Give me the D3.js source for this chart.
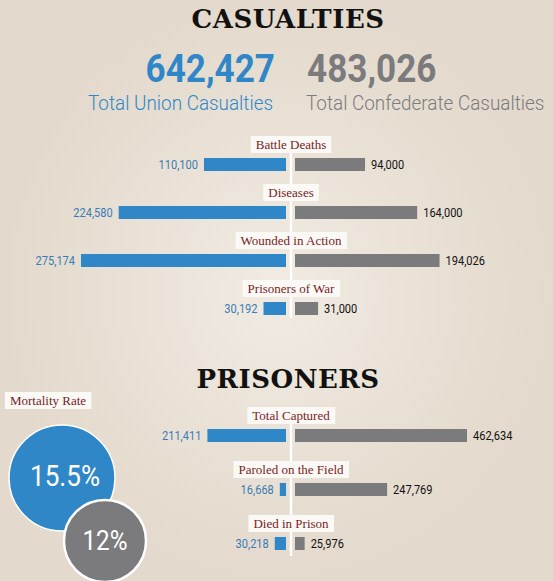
<!DOCTYPE html><html><head><meta charset="utf-8"><script src="https://cdn.jsdelivr.net/npm/d3@7"></script>
<style>body{margin:0;background:#ece5da}svg{display:block}</style></head><body>
<script>
const casualtyCats=["Battle Deaths","Diseases","Wounded in Action","Prisoners of War"];
const unionCas=[110100,224580,275174,30192];
const confCas=[94000,164000,194026,31000];
const prisonerCats=["Total Captured","Paroled on the Field","Died in Prison"];
const unionPris=[211411,16668,30218];
const confPris=[462634,247769,25976];
const totals=[642427,483026];
const totalLabels=["Total Union Casualties","Total Confederate Casualties"];
const mortality=[15.5,12];

const W=553,H=581,cx=291,BLUE="#2f87c8",GRAY="#7b7b7d",RED="#7a1c1c";
const cond="Roboto,sans-serif";
const svg=d3.select("body").append("svg").attr("width",W).attr("height",H);
const g=svg.append("defs").append("radialGradient").attr("id","bg");
g.append("stop").attr("offset","0%").attr("stop-color","#f1ebe2");
g.append("stop").attr("offset","100%").attr("stop-color","#e3d9cc");
svg.append("rect").attr("width",W).attr("height",H).attr("fill","url(#bg)");
const fmt=d3.format(",");
function title(t,y){svg.append("text").attr("x",cx-3).attr("y",y).attr("text-anchor","middle")
 .attr("font-family","'DejaVu Serif',serif").attr("font-weight","bold").attr("font-size",26)
 .attr("letter-spacing",0.5).attr("fill","#111").text(t);}
title("CASUALTIES",28);title("PRISONERS",388);
// condensed text helper: horizontal squeeze about anchor x
function ctext(x,y,anchor,size,fill,weight,t,sq){
 return svg.append("text").attr("transform",`translate(${x},${y}) scale(${sq||0.85},1)`).attr("text-anchor",anchor)
  .attr("font-family",cond).attr("font-size",size).attr("font-weight",weight||"normal").attr("fill",fill).text(t);
}
ctext(275,82,"end",39,BLUE,"bold",fmt(totals[0]),0.9);
ctext(307,82,"start",39,GRAY,"bold",fmt(totals[1]),0.9);
ctext(88,110,"start",21,BLUE,"300",totalLabels[0],0.9);
ctext(306,110,"start",21,GRAY,"300",totalLabels[1],0.9);

function labelBox(x,y,t){
 const lt=svg.append("text").attr("x",x).attr("y",y).attr("text-anchor","middle")
  .attr("font-family","'Liberation Serif',serif").attr("font-size",13).attr("fill",RED).text(t);
 const bb=lt.node().getBBox();
 svg.insert("rect","text:last-child").attr("x",bb.x-5).attr("y",bb.y-1).attr("width",bb.width+10).attr("height",bb.height+2).attr("fill","#fbf9f6");
 lt.raise();
}
function block(cats,u,c,y0,step,scale,lineTop,lineBot){
 svg.append("line").attr("x1",cx).attr("x2",cx).attr("y1",lineTop).attr("y2",lineBot).attr("stroke","#fff").attr("stroke-width",2.5);
 const y=d3.scaleBand().domain(cats).range([y0,y0+step*cats.length]);
 cats.forEach((k,i)=>{
  const yy=y(k);
  labelBox(cx,yy+4,k);
  const by=yy+13,bh=13;
  svg.append("rect").attr("x",cx-5-scale(u[i])).attr("y",by).attr("width",scale(u[i])).attr("height",bh).attr("fill",BLUE);
  svg.append("rect").attr("x",cx+4).attr("y",by).attr("width",scale(c[i])).attr("height",bh).attr("fill",GRAY);
  ctext(cx-11-scale(u[i]),by+11,"end",13,"#3a7cb5","normal",fmt(u[i]));
  ctext(cx+10+scale(c[i]),by+11,"start",13,"#111","normal",fmt(c[i]));
 });
}
block(casualtyCats,unionCas,confCas,145,48,d3.scaleLinear().domain([0,275174]).range([0,205]),150,318);
block(prisonerCats,unionPris,confPris,416,54,d3.scaleLinear().domain([0,462634]).range([0,172]),420,556);

labelBox(48,405,"Mortality Rate");
const r=d3.scaleLinear().domain([0,15.5]).range([0,53]);
[[62,478,BLUE],[105,541,GRAY]].forEach((p,i)=>{
 svg.append("circle").attr("cx",p[0]).attr("cy",p[1]).attr("r",r(mortality[i])).attr("fill",p[2]).attr("stroke","#fff").attr("stroke-width",i?2.5:1.5);
 ctext(i?p[0]:65,i?p[1]+9:486,"middle",i?27:29,"#fff","normal",mortality[i]+"%",0.9);
});
</script></body></html>
